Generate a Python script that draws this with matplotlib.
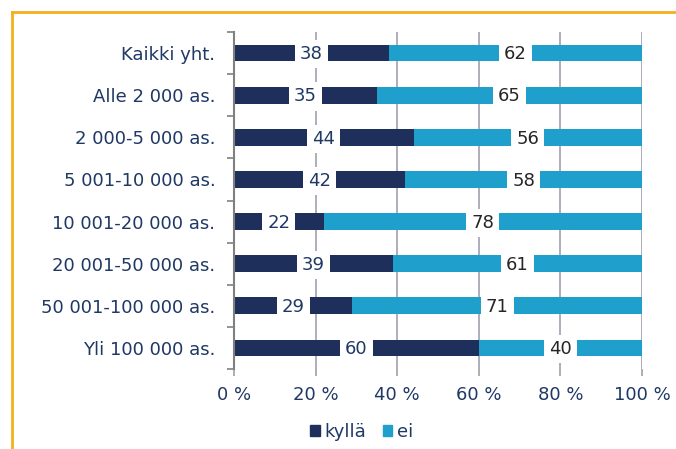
import numpy as np
import matplotlib
matplotlib.use("Agg")
import matplotlib.pyplot as plt
from matplotlib.lines import Line2D
from matplotlib.patches import Patch

# --- data
categories = ["Kaikki yht.", "Alle 2 000 as.", "2 000-5 000 as.", "5 001-10 000 as.",
              "10 001-20 000 as.", "20 001-50 000 as.", "50 001-100 000 as.", "Yli 100 000 as."]
kylla = [38, 35, 44, 42, 22, 39, 29, 60]
ei = [62, 65, 56, 58, 78, 61, 71, 40]
xticklabels = ["0 %", "20 %", "40 %", "60 %", "80 %", "100 %"]

navy = "#1F2F5C"
blue = "#1F9FCB"
txt = "#1F3864"
fs = 13

plt.rcParams["font.family"] = "DejaVu Sans"

fig = plt.figure(figsize=(6.76, 4.49), dpi=100)
ax = fig.add_axes([234 / 676, 1 - 369 / 449, 408 / 676, 337 / 449])

y = np.arange(len(categories))
ax.barh(y, kylla, height=0.4, color=navy, label="kyllä", zorder=2)
ax.barh(y, ei, left=kylla, height=0.4, color=blue, label="ei", zorder=2)

for i in range(len(categories)):
    ax.text(kylla[i] / 2, y[i] + 0.03, str(kylla[i]), ha="center", va="center", fontsize=fs,
            color=txt, zorder=3,
            bbox=dict(boxstyle="square,pad=0.28", fc="white", ec="none"))
    ax.text(kylla[i] + ei[i] / 2, y[i] + 0.03, str(ei[i]), ha="center", va="center", fontsize=fs,
            color="#262626", zorder=3,
            bbox=dict(boxstyle="square,pad=0.28", fc="white", ec="none"))

ax.set_xlim(0, 100)
ax.set_ylim(len(categories) - 0.5, -0.5)
ax.set_xticks([0, 20, 40, 60, 80, 100])
ax.set_xticklabels(xticklabels, fontsize=fs, color=txt)
ax.set_yticks(y)
ax.set_yticklabels(categories, fontsize=fs, color=txt)
ax.set_yticks(np.arange(-0.5, len(categories)), minor=True)
ax.tick_params(axis="y", which="major", length=0, pad=13.5)
ax.tick_params(axis="y", which="minor", length=5, color="#808080", width=1.2)
ax.tick_params(axis="x", length=5, color="#A0A0A8", width=1.2, pad=7)

ax.xaxis.grid(True, color="#A0A0B0", linewidth=1.2, zorder=0)
ax.set_axisbelow(True)
for s in ["top", "right", "bottom"]:
    ax.spines[s].set_visible(False)
ax.spines["left"].set_color("#808080")
ax.spines["left"].set_linewidth(1.5)

handles = [Patch(color=navy, label="kyllä"), Patch(color=blue, label="ei")]
fig.legend(handles=handles, loc="center", bbox_to_anchor=(0.535, 0.038), ncol=2,
           frameon=False, fontsize=fs, handlelength=0.55, handleheight=0.55,
           handletextpad=0.25, columnspacing=0.9, labelcolor=txt)

# orange frame (top and left edges visible)
fig.add_artist(Line2D([12 / 676, 1.0], [1 - 12 / 449] * 2, color="#F3B01C", linewidth=2))
fig.add_artist(Line2D([12 / 676] * 2, [0, 1 - 12 / 449], color="#F3B01C", linewidth=2))

fig.savefig("out.png", dpi=100)
